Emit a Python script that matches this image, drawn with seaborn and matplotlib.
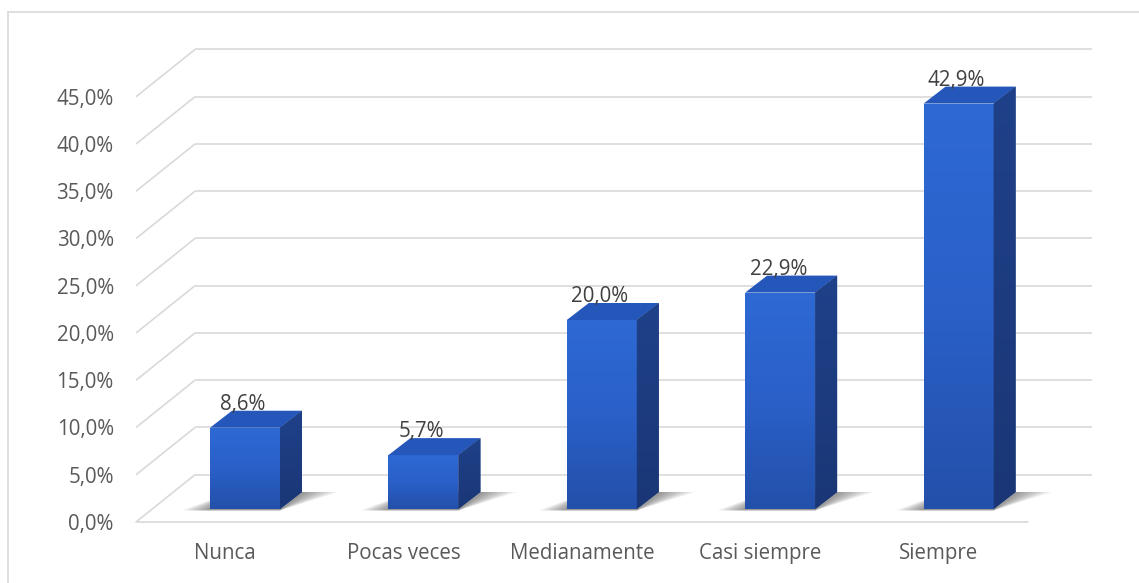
import numpy as np
import pandas as pd
import matplotlib
matplotlib.use("Agg")
import matplotlib.pyplot as plt
import seaborn as sns
from matplotlib.patches import Polygon
from matplotlib.lines import Line2D
from matplotlib.colors import LinearSegmentedColormap

categories = ["Nunca", "Pocas veces", "Medianamente", "Casi siempre", "Siempre"]
values = [8.6, 5.7, 20.0, 22.9, 42.9]
value_labels = ["8,6%", "5,7%", "20,0%", "22,9%", "42,9%"]
yticks = [0, 5, 10, 15, 20, 25, 30, 35, 40, 45]
ytick_labels = ["0,0%", "5,0%", "10,0%", "15,0%", "20,0%", "25,0%", "30,0%", "35,0%", "40,0%", "45,0%"]

sns.set_theme(style="white")
plt.rcParams['font.family'] = ['Open Sans', 'DejaVu Sans']

W, H = 1139, 583
fig = plt.figure(figsize=(W / 100, H / 100), dpi=100)
fig.patch.set_facecolor("white")
L, R, B, T = 136, 1092, 522, 30
ax = fig.add_axes([L / W, 1 - B / H, (R - L) / W, (B - T) / H])

PX_X = 178.4   # px per category
PX_Y = 9.45    # px per percent
DX = 59 / PX_X
DY = 47.3 / PX_Y

df = pd.DataFrame({"cat": categories, "val": values})
sns.barplot(data=df, x="cat", y="val", ax=ax, color="#2a60c8", width=70 / PX_X,
            saturation=1, zorder=4, linewidth=0)

xmax = -0.5 + (R - L) / PX_X
ax.set_xlim(-0.5, xmax)
ax.set_ylim(0, (B - T) / PX_Y)

grid_c = "#d9d9d9"
for v in yticks:
    ax.plot([-0.5, -0.5 + DX], [v, v + DY], color=grid_c, lw=1.2, zorder=1, solid_capstyle="butt")
    ax.plot([-0.5 + DX, xmax], [v + DY, v + DY], color=grid_c, lw=1.2, zorder=1, solid_capstyle="butt")
ax.plot([-0.5, 4.5], [0, 0], color=grid_c, lw=1.2, zorder=1, clip_on=False)

ox = 19.8 / PX_X
oy = 13 / PX_Y
bdx = 22 / PX_X
bdy = 17 / PX_Y

front_cmap = LinearSegmentedColormap.from_list("front", ["#2350aa", "#2a60c8", "#2e69d4"])
side_cmap = LinearSegmentedColormap.from_list("side", ["#1a3676", "#1f4189"])

for p, lab in zip(list(ax.patches[:len(values)]), value_labels):
    x0 = p.get_x() + ox
    w = p.get_width()
    h = p.get_height()
    p.set_x(x0)
    p.set_y(oy)
    p.set_facecolor("#2a60c8")
    # gradient on the front face
    grad = np.linspace(0, 1, 256).reshape(-1, 1)
    im = ax.imshow(grad, cmap=front_cmap, origin="lower", aspect="auto",
                   extent=(x0, x0 + w, oy, oy + h), zorder=4.5, interpolation="bilinear")
    im.set_clip_path(p)
    # shadow
    for k in range(8):
        e = (8 - k) * 3.5 / PX_X
        sh = Polygon([(x0 - e, oy - 0.15), (x0 + w, oy - 0.15),
                      (x0 + w + bdx + e * 1.3, oy + bdy), (x0 + bdx, oy + bdy)],
                     closed=True, facecolor="#000000", alpha=0.06, lw=0, zorder=2)
        ax.add_patch(sh)
    top = Polygon([(x0, oy + h), (x0 + w, oy + h), (x0 + w + bdx, oy + h + bdy), (x0 + bdx, oy + h + bdy)],
                  closed=True, facecolor="#2557bb", edgecolor="none", zorder=5)
    side = Polygon([(x0 + w, oy), (x0 + w + bdx, oy + bdy), (x0 + w + bdx, oy + h + bdy), (x0 + w, oy + h)],
                   closed=True, facecolor="#1e3f86", edgecolor="none", zorder=5)
    ax.add_patch(top)
    ax.add_patch(side)
    sim = ax.imshow(grad, cmap=side_cmap, origin="lower", aspect="auto",
                    extent=(x0 + w, x0 + w + bdx, oy, oy + h + bdy), zorder=5.5, interpolation="bilinear")
    sim.set_clip_path(side)
    ax.text(x0 + w / 2 - 2 / PX_X, oy + h + bdy + 1 / PX_Y, lab, ha="center", va="baseline",
            fontsize=14.8, color="#404040", zorder=6)

ax.set_xlim(-0.5, xmax)
ax.set_ylim(0, (B - T) / PX_Y)
for s in ax.spines.values():
    s.set_visible(False)
ax.set_xlabel("")
ax.set_ylabel("")
ax.set_yticks(yticks)
ax.set_yticklabels(ytick_labels)
ax.tick_params(axis="both", length=0, labelsize=14.8, labelcolor="#595959")
ax.tick_params(axis="y", pad=16)
ax.tick_params(axis="x", pad=15)
ax.set_facecolor("none")

fig.add_artist(Line2D([8 / W, 8 / W], [0, 1 - 12 / H], color="#d9d9d9", lw=1.2))
fig.add_artist(Line2D([8 / W, 1], [1 - 12 / H, 1 - 12 / H], color="#d9d9d9", lw=1.2))

fig.savefig("out.png", dpi=100)
